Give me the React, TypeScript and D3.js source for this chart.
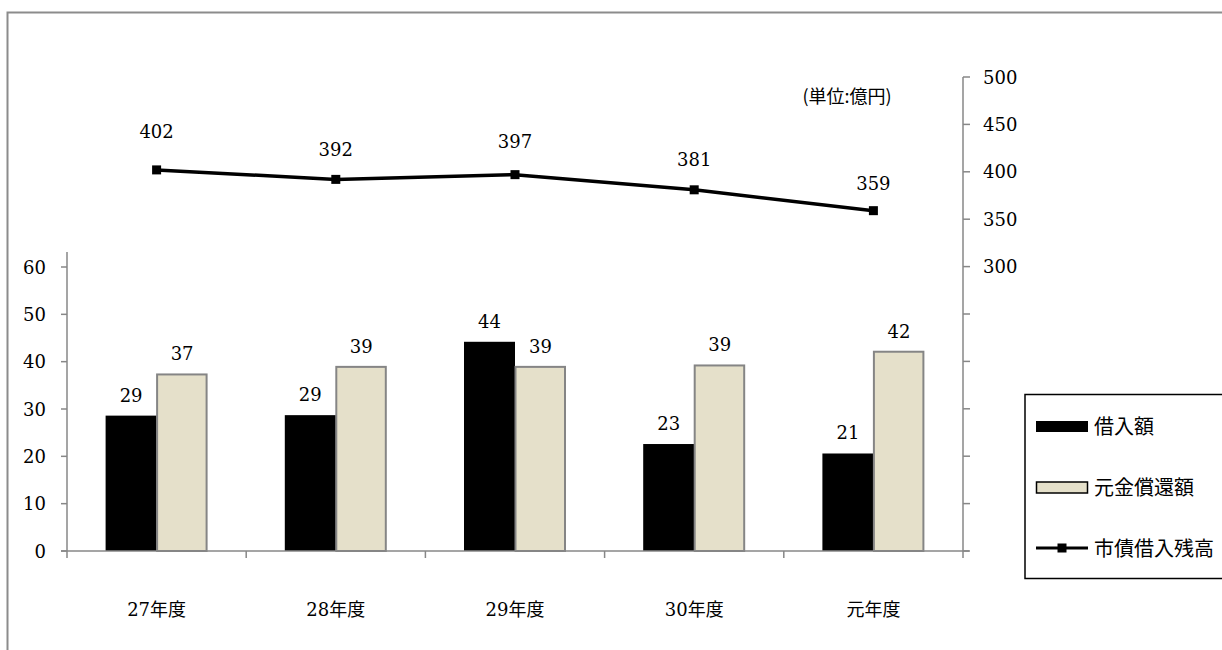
import React from "react";
import * as d3 from "d3";

const categories = ["27年度", "28年度", "29年度", "30年度", "元年度"];
const borrowing = [28.6, 28.7, 44.2, 22.6, 20.6];
const repayment = [37.3, 38.9, 38.9, 39.2, 42.1];
const balance = [402, 392, 397, 381, 359];
const leftTicks = [0, 10, 20, 30, 40, 50, 60];
const rightTicks = [0, 50, 100, 150, 200, 250, 300, 350, 400, 450, 500];
const rightLabelMin = 300;
const balanceLabelOffsets = [38, 30, 33, 30, 27];
const seriesNames = ["借入額", "元金償還額", "市債借入残高"];
const unitLabel = "(単位:億円)";

const NUM_FONT = '"DejaVu Serif", "Noto Sans CJK JP", serif';
const JP_FONT = '"Noto Sans CJK JP", sans-serif';
const AXIS = "#878787";
const BEIGE = "#e5e0ca";
const NUM_SIZE = 18;

const numStyle: React.CSSProperties = { fontFamily: NUM_FONT, fontSize: NUM_SIZE };
const jpStyle = (s: number): React.CSSProperties => ({ fontFamily: JP_FONT, fontSize: s });

export default function App() {
  const x0 = 67, x1 = 963, yBase = 551;
  const x = d3.scaleBand<string>().domain(categories).range([x0, x1]);
  const yL = d3.scaleLinear().domain([0, 60]).range([yBase, 267]);
  const yR = d3.scaleLinear().domain([0, 500]).range([yBase, 77]);
  const barW = 51;
  const cx = (c: string) => (x(c) as number) + x.bandwidth() / 2;
  const linePath = d3
    .line<number>()
    .x((_, i) => cx(categories[i]))
    .y((d) => yR(d))(balance) as string;

  return (
    <svg
      width={1222}
      height={650}
      style={{ position: "absolute", left: 0, top: 0, display: "block", background: "#fff" }}
    >
      <rect x={7.5} y={12.5} width={1250} height={700} fill="#fff" stroke="#8c8c8c" strokeWidth={2} />

      {/* bars */}
      {categories.map((c, i) => (
        <g key={c}>
          <rect
            x={cx(c) - barW}
            y={yL(borrowing[i])}
            width={barW}
            height={yBase - yL(borrowing[i])}
            fill="#000"
          />
          <rect
            x={cx(c) + 0.5}
            y={yL(repayment[i])}
            width={barW - 1.5}
            height={yBase - yL(repayment[i])}
            fill={BEIGE}
            stroke="#858585"
            strokeWidth={2}
          />
          <text x={cx(c) - barW / 2} y={yL(borrowing[i]) - 14} textAnchor="middle" style={numStyle} fill="#000">
            {Math.round(borrowing[i])}
          </text>
          <text x={cx(c) + barW / 2} y={yL(repayment[i]) - 14} textAnchor="middle" style={numStyle} fill="#000">
            {Math.round(repayment[i])}
          </text>
        </g>
      ))}

      {/* axes */}
      <g stroke={AXIS} strokeWidth={1.5}>
        <line x1={x0} x2={x0} y1={252} y2={yBase} />
        <line x1={x1} x2={x1} y1={yR(500)} y2={yBase} />
        <line x1={x0 - 6} x2={x1 + 6} y1={yBase} y2={yBase} />
        {leftTicks.map((t) => (
          <line key={"l" + t} x1={x0 - 6} x2={x0} y1={yL(t)} y2={yL(t)} />
        ))}
        {rightTicks.map((t) => (
          <line key={"r" + t} x1={x1} x2={x1 + 7} y1={yR(t)} y2={yR(t)} />
        ))}
        {d3.range(categories.length + 1).map((i) => {
          const xx = x0 + i * x.bandwidth();
          return <line key={"c" + i} x1={xx} x2={xx} y1={yBase} y2={yBase + 7} />;
        })}
      </g>
      {leftTicks.map((t) => (
        <text key={"lt" + t} x={46} y={yL(t) + 6.5} textAnchor="end" style={numStyle} fill="#000">
          {t}
        </text>
      ))}
      {rightTicks
        .filter((t) => t >= rightLabelMin)
        .map((t) => (
          <text key={"rt" + t} x={983} y={yR(t) + 6.5} textAnchor="start" style={numStyle} fill="#000">
            {t}
          </text>
        ))}
      {categories.map((c) => (
        <text key={"cat" + c} x={cx(c)} y={616} textAnchor="middle" style={{ fontFamily: NUM_FONT, fontSize: 18 }} fill="#000">
          {c}
        </text>
      ))}

      {/* line */}
      <path d={linePath} fill="none" stroke="#000" strokeWidth={3.5} />
      {balance.map((v, i) => (
        <g key={"m" + i}>
          <rect x={cx(categories[i]) - 4.5} y={yR(v) - 4.5} width={9} height={9} fill="#000" />
          <text
            x={cx(categories[i])}
            y={yR(v) - balanceLabelOffsets[i] + 6.5}
            textAnchor="middle"
            style={numStyle}
            fill="#000"
          >
            {v}
          </text>
        </g>
      ))}

      <text x={847} y={103} textAnchor="middle" style={jpStyle(18)} fill="#000">
        {unitLabel}
      </text>

      {/* legend */}
      <rect x={1025} y={394.5} width={220} height={184} fill="#fff" stroke="#000" strokeWidth={1.5} />
      <rect x={1036} y={421} width={52} height={11} fill="#000" />
      <text x={1094} y={433.5} style={jpStyle(20)} fill="#000">
        {seriesNames[0]}
      </text>
      <rect x={1036.5} y={482} width={51} height={11} fill={BEIGE} stroke="#000" strokeWidth={1.5} />
      <text x={1094} y={494.5} style={jpStyle(20)} fill="#000">
        {seriesNames[1]}
      </text>
      <line x1={1036} x2={1088} y1={548} y2={548} stroke="#000" strokeWidth={3} />
      <rect x={1057.5} y={543.5} width={9} height={9} fill="#000" />
      <text x={1094} y={555.5} style={jpStyle(20)} fill="#000">
        {seriesNames[2]}
      </text>
    </svg>
  );
}
